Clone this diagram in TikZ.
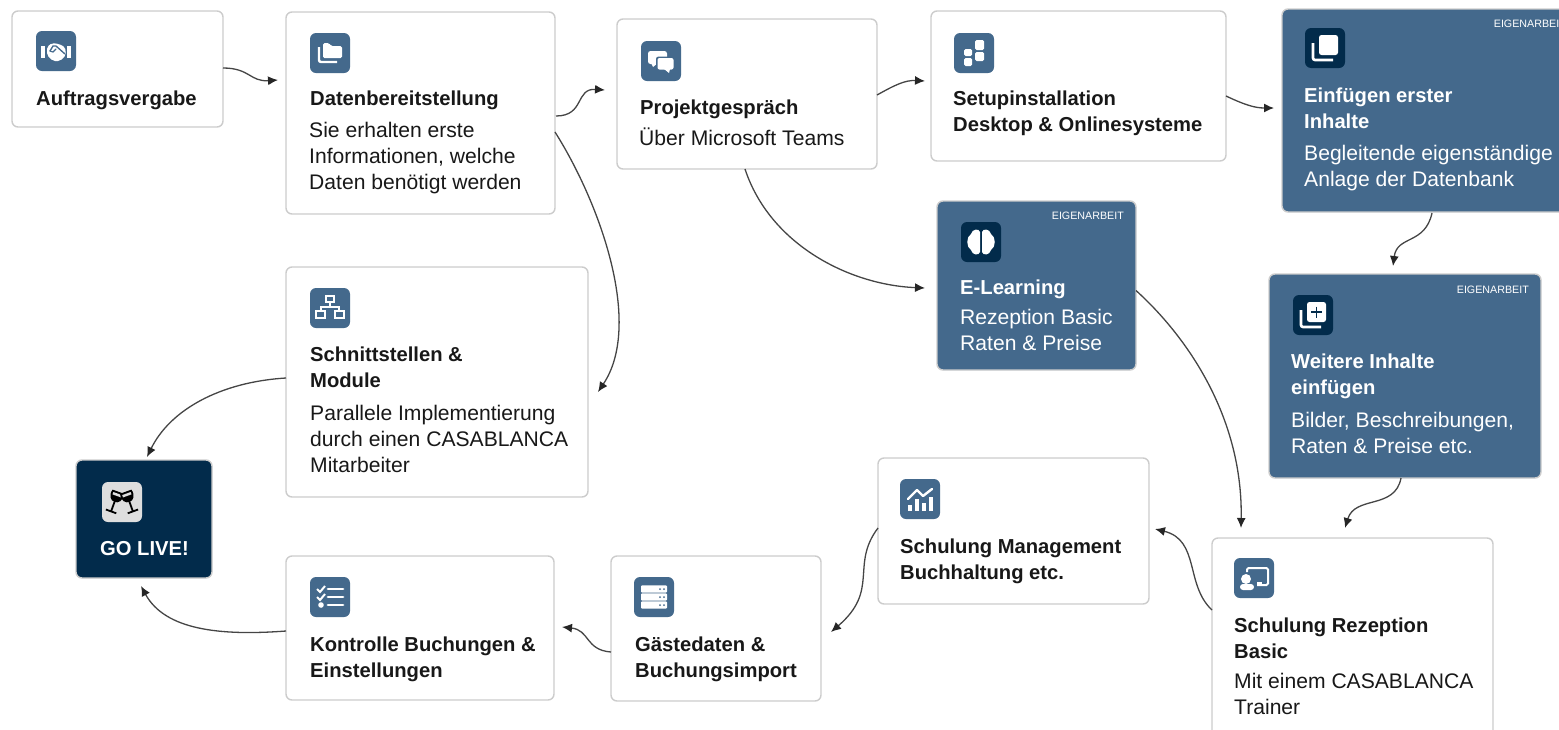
\documentclass[tikz,border=0pt]{standalone}
\usepackage{fontspec}
\setmainfont{Liberation Sans}
\usetikzlibrary{arrows.meta,calc}
\definecolor{cardblue}{HTML}{44698C}
\definecolor{carddark}{HTML}{022B4B}
\definecolor{cardline}{HTML}{CCCCCC}
\definecolor{linkgray}{HTML}{454545}
\definecolor{inkblack}{HTML}{181818}
\definecolor{icolight}{HTML}{DEDEDE}
\tikzset{
    card/.style={draw=cardline,line width=1.4pt,rounded corners=6pt,fill=white,inner sep=0pt,outer sep=0pt,anchor=center},
    bluecard/.style={card,fill=cardblue},
    darkcard/.style={card,fill=carddark},
    icobox/.style={fill=cardblue,rounded corners=6pt,minimum width=40pt,minimum height=40pt,inner sep=0pt,outer sep=0pt,anchor=center},
    icodark/.style={icobox,fill=carddark},
    icopale/.style={icobox,fill=icolight},
    headline/.style={anchor=west,align=left,inner sep=0pt,text=inkblack,font=\fontsize{20.2}{26}\selectfont\bfseries},
    bodytext/.style={anchor=west,align=left,inner sep=0pt,text=inkblack,font=\fontsize{21.1}{26}\selectfont},
    owntag/.style={anchor=east,inner sep=0pt,text=white,font=\fontsize{10.7}{12}\selectfont},
    link/.style={draw=linkgray,line width=1.3pt,-{Latex[length=10pt,width=9pt,color=black!85]}}
}
\newcommand{\icohands}{
    \fill[white] (-15,-5) rectangle (-11,7);
    \fill[white] (11,-5) rectangle (15,7);
    \fill[white,rounded corners=2pt] (-9,-4) -- (-4,-8) -- (3,-7) -- (9,-4) -- (10,4) -- (4,10) -- (-3,10) -- (-9,4) -- cycle;
    \draw[cardblue,line width=1.3pt,line join=round,line cap=round] (-6,0) -- (-3,-5) -- (0,-5) -- (9,3);
    \draw[cardblue,line width=1.1pt,line cap=round] (-6,0) -- (-3,1) -- (0,-2);
}
\newcommand{\icofolder}{
    \draw[white,line width=2.4pt,rounded corners=2pt] (-11,-6) -- (-11,9) -- (7,9);
    \fill[white,rounded corners=1.5pt] (-7,-10) -- (-1,-10) -- (1,-7) -- (12,-7) -- (12,5) -- (-7,5) -- cycle;
}
\newcommand{\icochat}{
    \fill[white,rounded corners=2.5pt] (-13,-10) rectangle (6,3);
    \fill[white] (-10,2) -- (-8,6) -- (-3,2) -- cycle;
    \fill[cardblue,rounded corners=2.5pt] (-5,-4.5) rectangle (14,10);
    \fill[white,rounded corners=2pt] (-3.5,-3) rectangle (12.5,8.5);
    \fill[white] (3,8) -- (8,12) -- (9,8) -- cycle;
}
\newcommand{\icoblocks}{
    \fill[white,rounded corners=1.5pt] (-10,-4) rectangle (-2,3);
    \fill[white,rounded corners=1.5pt] (-10,5) rectangle (-2,13);
    \fill[white,rounded corners=1.5pt] (1,-13) rectangle (10,-3);
    \fill[white,rounded corners=1.5pt] (1,-1) rectangle (10,8);
}
\newcommand{\icolayers}{
    \draw[white,line width=2.6pt,rounded corners=2pt] (-12,-5) -- (-12,12) -- (8,12);
    \fill[white,rounded corners=2.5pt] (-6,-13) rectangle (13,7);
}
\newcommand{\icobrain}{
    \foreach \s in {-1,1}{
        \fill[white] (\s*1,-10) .. controls (\s*2,-14) and (\s*9,-13) .. (\s*10,-8) .. controls (\s*15,-5) and (\s*15,5) .. (\s*10,8) .. controls (\s*9,13) and (\s*2,14) .. (\s*1,10) -- cycle;}
}
\newcommand{\icoplus}{
    \draw[white,line width=2.6pt,rounded corners=2pt] (-12,-5) -- (-12,12) -- (8,12);
    \fill[white,rounded corners=2.5pt] (-6,-13) rectangle (13,7);
    \draw[carddark,line width=1.6pt] (-2,-3) -- (9,-3) (3.5,-8.5) -- (3.5,2.5);
}
\newcommand{\iconet}{
    \draw[white,line width=1.4pt] (-4,-12) rectangle (4,-6);
    \draw[white,line width=1.4pt] (0,-6) -- (0,-1) (-9,3) -- (-9,-1) -- (9,-1) -- (9,3);
    \draw[white,line width=1.4pt] (-14,3) rectangle (-5,10);
    \draw[white,line width=1.4pt] (5,3) rectangle (14,10);
}
\newcommand{\icoglass}{
    \foreach \s/\a in {-1/-20,1/20}{
        \begin{scope}[shift={(\s*7.5,0)},rotate=\a]
            \fill[black] (-6,-11) -- (6,-11) .. controls (8,-4) and (4,0) .. (0,0) .. controls (-4,0) and (-8,-4) .. (-6,-11) -- cycle;
            \draw[black,line width=1.8pt] (0,0) -- (0,10) (-5.5,10) -- (5.5,10);
            \fill[icolight] (-4.5,-9) rectangle (4.5,-6.5);
        \end{scope}}
}
\newcommand{\icolist}{
    \foreach \y in {-8,0,8}{\draw[white,line width=2.8pt,line cap=round] (-2,\y) -- (13,\y);}
    \foreach \y in {-8,0}{\draw[white,line width=2pt] (-13,\y) -- (-10,\y+3) -- (-5,\y-3);}
    \fill[white] (-9,8) circle (2.8pt);
}
\newcommand{\icoserver}{
    \foreach \y in {-8,0,8}{
        \fill[white,rounded corners=1pt] (-13,\y-3.6) rectangle (13,\y+3.6);
        \fill[cardblue] (6,\y) circle (1pt) (10,\y) circle (1pt);}
}
\newcommand{\icochart}{
    \fill[white] (-12,6) rectangle (-8,12);
    \fill[white] (-5,0) rectangle (-1,12);
    \fill[white] (2,4) rectangle (6,12);
    \fill[white] (9,-2) rectangle (13,12);
    \draw[white,line width=2.4pt,line join=round,line cap=round] (-12,0) -- (-3,-9) -- (3,-3) -- (12,-10);
}
\newcommand{\icoteach}{
    \draw[white,line width=2pt,rounded corners=1.5pt] (-7,-6) -- (-7,-10) -- (14,-10) -- (14,7) -- (3,7);
    \fill[white] (-8,1) circle (5pt);
    \fill[white,rounded corners=3pt] (-14,12) -- (-14,6) -- (0,6) -- (0,12) -- cycle;
    \fill[white] (3,3.5) rectangle (8,7);
}
\begin{document}
\begin{tikzpicture}[x=1pt,y=-1pt]
    \useasboundingbox (0,0) rectangle (1559,729);
    % cards
    \node[card,minimum width=211pt,minimum height=116pt] (auftrag) at (117.5,69) {};
    \node[card,minimum width=269pt,minimum height=202pt] (daten) at (420.5,113) {};
    \node[card,minimum width=260pt,minimum height=150pt] (projekt) at (747,94) {};
    \node[card,minimum width=295pt,minimum height=150pt] (setup) at (1078.5,86) {};
    \node[bluecard,minimum width=296pt,minimum height=203pt] (einfuegen) at (1430,110.5) {};
    \node[bluecard,minimum width=199pt,minimum height=169pt] (elearn) at (1036.5,285.5) {};
    \node[bluecard,minimum width=272pt,minimum height=204pt] (weitere) at (1405,376) {};
    \node[card,minimum width=302pt,minimum height=230pt] (schnitt) at (437,382) {};
    \node[darkcard,minimum width=136pt,minimum height=118pt] (live) at (144,519) {};
    \node[card,minimum width=268pt,minimum height=144pt] (kontrolle) at (420,628) {};
    \node[card,minimum width=210pt,minimum height=145pt] (gaeste) at (716,628.5) {};
    \node[card,minimum width=271pt,minimum height=146pt] (mgmt) at (1013.5,531) {};
    \node[card,minimum width=281pt,minimum height=200pt] (rezeption) at (1352.5,638) {};
    % icons
    \node[icobox] (icoauftrag) at (56,51) {};
    \node[icobox] (icodaten) at (330,53) {};
    \node[icobox] (icoprojekt) at (661,61) {};
    \node[icobox] (icosetup) at (974,53) {};
    \node[icodark] (icoeinf) at (1325,48) {};
    \node[icodark] (icoelearn) at (981,242) {};
    \node[icodark] (icoweitere) at (1313,315) {};
    \node[icobox] (icoschnitt) at (330,308) {};
    \node[icopale] (icolive) at (122,502) {};
    \node[icobox] (icokontrolle) at (330,597) {};
    \node[icobox] (icogaeste) at (654,597) {};
    \node[icobox] (icomgmt) at (920,499) {};
    \node[icobox] (icorez) at (1254,578) {};
    \begin{scope}[shift={(icoauftrag.center)}]\icohands\end{scope}
    \begin{scope}[shift={(icodaten.center)}]\icofolder\end{scope}
    \begin{scope}[shift={(icoprojekt.center)}]\icochat\end{scope}
    \begin{scope}[shift={(icosetup.center)}]\icoblocks\end{scope}
    \begin{scope}[shift={(icoeinf.center)}]\icolayers\end{scope}
    \begin{scope}[shift={(icoelearn.center)}]\icobrain\end{scope}
    \begin{scope}[shift={(icoweitere.center)}]\icoplus\end{scope}
    \begin{scope}[shift={(icoschnitt.center)}]\iconet\end{scope}
    \begin{scope}[shift={(icolive.center)}]\icoglass\end{scope}
    \begin{scope}[shift={(icokontrolle.center)}]\icolist\end{scope}
    \begin{scope}[shift={(icogaeste.center)}]\icoserver\end{scope}
    \begin{scope}[shift={(icomgmt.center)}]\icochart\end{scope}
    \begin{scope}[shift={(icorez.center)}]\icoteach\end{scope}
    % texts
    \node[headline] (tauftrag) at (36,100) {Auftragsvergabe};
    \node[headline] (tdaten) at (310,100) {Datenbereitstellung};
    \node[bodytext] (bdaten) at (309,158) {Sie erhalten erste\\Informationen, welche\\Daten benötigt werden};
    \node[headline] (tprojekt) at (640,109) {Projektgespräch};
    \node[bodytext] (bprojekt) at (639,137) {Über Microsoft Teams};
    \node[headline] (tsetup) at (953,113) {Setupinstallation\\Desktop \& Onlinesysteme};
    \node[headline,text=white] (teinf) at (1304,108) {Einfügen erster\\Inhalte};
    \node[bodytext,text=white] (beinf) at (1304,168.5) {Begleitende eigenständige\\Anlage der Datenbank};
    \node[owntag] (ownein) at (1566,24) {EIGENARBEIT};
    \node[headline,text=white] (telearn) at (960,289) {E-Learning};
    \node[bodytext,text=white] (belearn) at (960,330) {Rezeption Basic\\Raten \& Preise};
    \node[owntag] (ownelearn) at (1124,216) {EIGENARBEIT};
    \node[headline,text=white] (tweitere) at (1291,376) {Weitere Inhalte\\einfügen};
    \node[bodytext,text=white] (bweitere) at (1291,433) {Bilder, Beschreibungen,\\Raten \& Preise etc.};
    \node[owntag] (ownweitere) at (1529,290) {EIGENARBEIT};
    \node[headline] (tschnitt) at (310,367) {Schnittstellen \&\\Module};
    \node[bodytext] (bschnitt) at (310,439) {Parallele Implementierung\\durch einen CASABLANCA\\Mitarbeiter};
    \node[headline,text=white] (tlive) at (100,549) {GO LIVE!};
    \node[headline] (tkontrolle) at (310,659) {Kontrolle Buchungen \&\\Einstellungen};
    \node[headline] (tgaeste) at (635,659) {Gästedaten \&\\Buchungsimport};
    \node[headline] (tmgmt) at (900,561.5) {Schulung Management\\Buchhaltung etc.};
    \node[headline] (trez) at (1234,638) {Schulung Rezeption\\Basic};
    \node[bodytext] (brez) at (1234,694) {Mit einem CASABLANCA\\Trainer};
    % connectors
    \draw[link] (auftrag.east) ++(0,-1) .. controls +(27,0) and +(-28,2) .. ($(daten.west)+(-8,-33)$);
    \draw[link] ($(daten.east)+(1,3)$) .. controls +(29,0) and +(-30,-2) .. ($(projekt.west)+(-12,-4)$);
    \draw[link] ($(daten.east)+(0,19)$) .. controls +(46,73) and +(45,-67) .. ($(schnitt.east)+(10,10)$);
    \draw[link] ($(projekt.east)+(0,1)$) .. controls +(18,-10) and +(-20,-1) .. ($(setup.west)+(-6,-5)$);
    \draw[link] ($(projekt.south)+(-2,0)$) .. controls +(25,76) and +(-75,-3) .. ($(elearn.west)+(-12,2.5)$);
    \draw[link] ($(setup.east)+(0,10)$) .. controls +(19,9) and +(-19,0) .. ($(einfuegen.west)+(-8,-2.5)$);
    \draw[link] ($(einfuegen.south)+(2,1)$) .. controls +(-7,32) and +(4,-31) .. ($(weitere.north)+(-12,-8)$);
    \draw[link] ($(elearn.east)+(0,5)$) .. controls +(54,49) and +(2,-108) .. ($(rezeption.north)+(-111.5,-10)$);
    \draw[link] ($(weitere.south)+(-4,0)$) .. controls +(-6,32) and +(10,-33) .. ($(rezeption.north)+(-7.5,-10)$);
    \draw[link] ($(rezeption.west)+(0,-28)$) .. controls +(-27,-25) and +(45,11) .. ($(mgmt.east)+(6,-2)$);
    \draw[link] ($(mgmt.west)+(0,-3)$) .. controls +(-28,37) and +(49,-42) .. ($(gaeste.east)+(10,3.5)$);
    \draw[link] ($(gaeste.west)+(0,23.5)$) .. controls +(-26,-2) and +(28,3) .. ($(kontrolle.east)+(8,-1)$);
    \draw[link] ($(kontrolle.west)+(0,3)$) .. controls +(-66,5) and +(24,44) .. ($(live.south)+(-3,8)$);
    \draw[link] ($(schnitt.west)+(0,-4)$) .. controls +(-66,4) and +(23,-47) .. ($(live.north)+(3,-3)$);
\end{tikzpicture}
\end{document}
